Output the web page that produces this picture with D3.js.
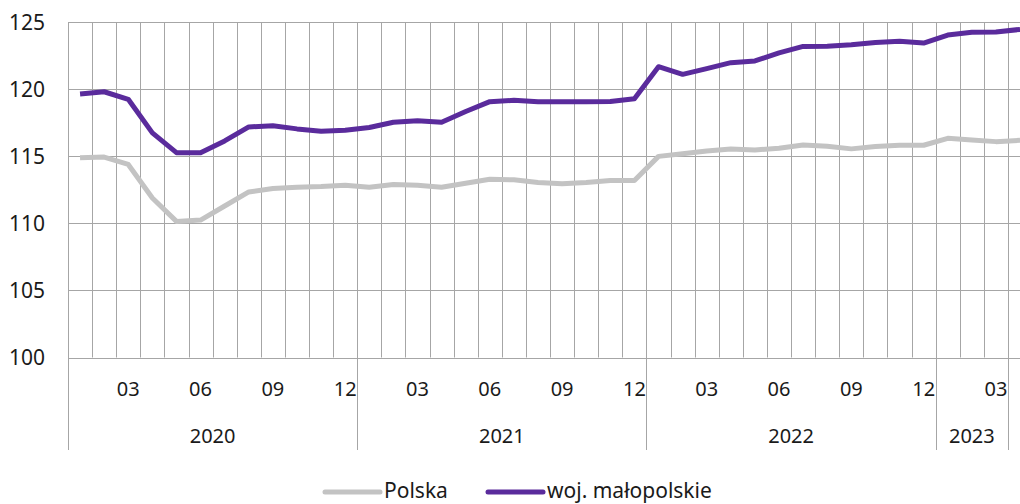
<!DOCTYPE html>
<html>
<head>
<meta charset="utf-8">
<script src="https://cdn.jsdelivr.net/npm/d3@7"></script>
<style>
  body { margin: 0; background: #fff; }
  svg { display: block; font-family: 'Noto Sans', sans-serif; }
</style>
</head>
<body>
<div id="chart"></div>
<script>
// months 2020-01 .. 2023-04
const months = [
  '2020-01','2020-02','2020-03','2020-04','2020-05','2020-06','2020-07','2020-08','2020-09','2020-10','2020-11','2020-12',
  '2021-01','2021-02','2021-03','2021-04','2021-05','2021-06','2021-07','2021-08','2021-09','2021-10','2021-11','2021-12',
  '2022-01','2022-02','2022-03','2022-04','2022-05','2022-06','2022-07','2022-08','2022-09','2022-10','2022-11','2022-12',
  '2023-01','2023-02','2023-03','2023-04'
]
const polska = [
  114.9, 114.95, 114.4, 111.9, 110.15, 110.25, 111.3, 112.35, 112.6, 112.7, 112.75, 112.85,
  112.7, 112.9, 112.85, 112.7, 113.0, 113.3, 113.25, 113.05, 112.95, 113.05, 113.2, 113.2,
  115.0, 115.2, 115.4, 115.55, 115.48, 115.6, 115.85, 115.76, 115.56, 115.73, 115.83, 115.83,
  116.35, 116.23, 116.1, 116.2
]
const malopolskie = [
  119.66, 119.82, 119.26, 116.75, 115.28, 115.28, 116.15, 117.2, 117.28, 117.05, 116.88, 116.95,
  117.15, 117.55, 117.65, 117.55, 118.35, 119.08, 119.18, 119.08, 119.08, 119.08, 119.1, 119.3,
  121.69, 121.12, 121.55, 121.99, 122.12, 122.72, 123.2, 123.22, 123.32, 123.5, 123.58, 123.45,
  124.05, 124.25, 124.27, 124.47
]
const yTicks = [100, 105, 110, 115, 120, 125]
const monthTicks = ['03', '06', '09', '12']
const years = ['2020', '2021', '2022', '2023']

const width = 1020
const height = 504
const margin = { top: 22, left: 68, bottom: 147 }

const svg = d3
  .select('#chart')
  .append('svg')
  .attr('width', width)
  .attr('height', height)

// boundary scale: month index -> left edge of the month
const x = d3.scaleLinear().domain([0, 39]).range([margin.left, 1008])
const y = d3.scaleLinear().domain([100, 125]).range([357.5, 22.3])

const grid = svg.append('g').attr('stroke', '#a6a6a6').attr('stroke-width', 1)

grid
  .selectAll('.hgrid')
  .data(yTicks)
  .enter()
  .append('line')
  .attr('x1', margin.left)
  .attr('x2', width)
  .attr('y1', d => Math.round(y(d)) + 0.5)
  .attr('y2', d => Math.round(y(d)) + 0.5)

grid
  .selectAll('.vgrid')
  .data(d3.range(0, 40))
  .enter()
  .append('line')
  .attr('x1', d => Math.round(x(d)) + 0.5)
  .attr('x2', d => Math.round(x(d)) + 0.5)
  .attr('y1', y(125))
  .attr('y2', d => {
    const m = months[d] ? +months[d].slice(5) : 1
    return (d === 0 || m === 1 || d === 39) ? 450 : y(100)
  })

// y axis labels
svg
  .selectAll('.ylab')
  .data(yTicks)
  .enter()
  .append('text')
  .attr('x', 45)
  .attr('y', d => y(d))
  .attr('dy', '0.36em')
  .attr('text-anchor', 'end')
  .attr('fill', '#1a1a1a')
  .style('font-size', '21px')
  .text(d => d)

// month labels
const monthIdx = months
  .map((m, i) => ({ m: m.slice(5), i }))
  .filter(d => monthTicks.includes(d.m) && d.i < 39)

svg
  .selectAll('.mlab')
  .data(monthIdx)
  .enter()
  .append('text')
  .attr('x', d => x(d.i + 0.5))
  .attr('y', 395.5)
  .attr('text-anchor', 'middle')
  .attr('fill', '#1a1a1a')
  .style('font-size', '20px')
  .text(d => d.m)

// year labels, centred in each year's span (2023 only up to the last separator)
svg
  .selectAll('.yrlab')
  .data(years)
  .enter()
  .append('text')
  .attr('x', (d, i) => {
    const start = i * 12
    const end = Math.min(start + 12, 39)
    return (x(start) + x(end)) / 2
  })
  .attr('y', 442.5)
  .attr('text-anchor', 'middle')
  .attr('fill', '#1a1a1a')
  .style('font-size', '20px')
  .text(d => d)

// lines
const line = d3
  .line()
  .x((d, i) => x(i + 0.5))
  .y(d => y(d))

const series = [
  { name: 'Polska', values: polska, color: '#c3c3c3' },
  { name: 'woj. małopolskie', values: malopolskie, color: '#5a2b9c' }
]

svg
  .selectAll('.series')
  .data(series)
  .enter()
  .append('path')
  .attr('fill', 'none')
  .attr('stroke', d => d.color)
  .attr('stroke-width', 5)
  .attr('stroke-linejoin', 'round')
  .attr('d', d => line(d.values))

// legend
const legendX = [325, 488]
const legend = svg
  .selectAll('.legend')
  .data(series)
  .enter()
  .append('g')
  .attr('transform', (d, i) => 'translate(' + legendX[i] + ',492)')

legend
  .append('line')
  .attr('x1', 0)
  .attr('x2', 55)
  .attr('stroke', d => d.color)
  .attr('stroke-width', 5)
  .attr('stroke-linecap', 'round')

legend
  .append('text')
  .attr('x', 59)
  .attr('y', -2)
  .attr('dy', '0.36em')
  .attr('fill', '#1a1a1a')
  .style('font-size', '21px')
  .text(d => d.name)
</script>
</body>
</html>
